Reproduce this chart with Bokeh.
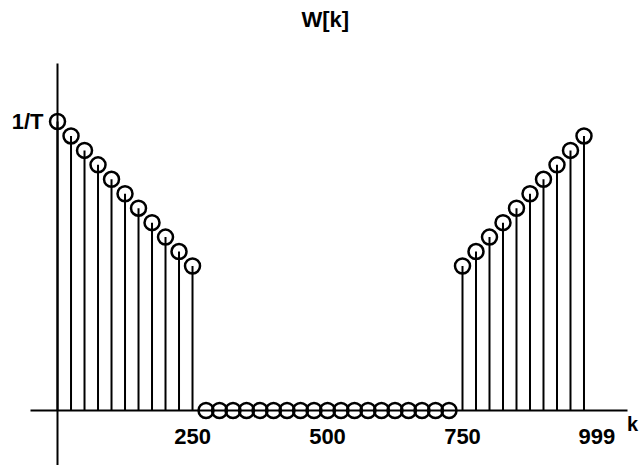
from bokeh.plotting import figure
from bokeh.models import Range1d, FixedTicker, Label
from bokeh.embed import file_html
from bokeh.resources import INLINE

# Data (k index, W[k] in units of 1/T)
k_left = [0, 25, 50, 75, 100, 125, 150, 175, 200, 225, 250]
w_left = [1.0, 0.95, 0.9, 0.85, 0.8, 0.75, 0.7, 0.65, 0.6, 0.55, 0.5]
k_mid = [275, 300, 325, 350, 375, 400, 425, 450, 475, 500,
         525, 550, 575, 600, 625, 650, 675, 700, 725]
w_mid = [0, 0, 0, 0, 0, 0, 0, 0, 0, 0,
         0, 0, 0, 0, 0, 0, 0, 0, 0]
k_right = [750, 775, 800, 825, 850, 875, 900, 925, 950, 975]
w_right = [0.5, 0.55, 0.6, 0.65, 0.7, 0.75, 0.8, 0.85, 0.9, 0.95]

x_ticks = [250, 500, 750, 999]
x_tick_labels = {250: "250", 500: "500", 750: "750", 999: "999"}
y_ticks = [1]
y_tick_labels = {1: "1/T"}
title_text = "W[k]"
x_name = "k"

ks = k_left + k_mid + k_right
ws = w_left + w_mid + w_right
zeros = [0] * len(ks)

FONT = "Liberation Sans"

p = figure(width=639, height=465, output_backend="svg", toolbar_location=None,
           x_range=Range1d(-105.6, 1077.8), y_range=Range1d(-0.1903, 1.4187),
           min_border_left=0, min_border_right=0, min_border_top=0,
           min_border_bottom=0, title=None)

p.xgrid.visible = False
p.ygrid.visible = False
p.outline_line_color = None
p.background_fill_color = "white"
p.border_fill_color = "white"

# stems
p.segment(x0=ks, y0=zeros, x1=ks, y1=ws, line_color="black", line_width=2)
# circle heads
p.scatter(x=ks, y=ws, marker="circle", size=15, fill_alpha=0,
          line_color="black", line_width=2.5)

for ax in (p.xaxis, p.yaxis):
    ax.fixed_location = 0
    ax.axis_line_color = "black"
    ax.axis_line_width = 2
    ax.major_tick_line_color = None
    ax.minor_tick_line_color = None
    ax.major_tick_in = 0
    ax.major_tick_out = 0
    ax.major_label_text_font = FONT
    ax.major_label_text_font_style = "bold"
    ax.major_label_text_color = "black"

p.xaxis.bounds = (-50, 1055.6)
p.xaxis.ticker = FixedTicker(ticks=x_ticks)
p.xaxis.major_label_overrides = x_tick_labels
p.xaxis.major_label_text_font_size = "22px"
p.xaxis.major_label_standoff = 18

p.yaxis.bounds = (-0.1903, 1.2007)
p.yaxis.ticker = FixedTicker(ticks=y_ticks)
p.yaxis.major_label_overrides = y_tick_labels
p.yaxis.major_label_text_font_size = "22px"
p.yaxis.major_label_standoff = 14

title_label = Label(x=496, y=1.353, text=title_text, text_font=FONT,
                    text_font_style="bold", text_font_size="22px",
                    text_align="center", text_baseline="middle", text_color="black")
p.add_layout(title_label)

k_label = Label(x=1065, y=-0.045, text=x_name, text_font=FONT, text_font_style="bold",
                text_font_size="20px", text_align="center", text_baseline="middle",
                text_color="black")
p.add_layout(k_label)

open("out.html", "w").write(file_html(p, INLINE))
